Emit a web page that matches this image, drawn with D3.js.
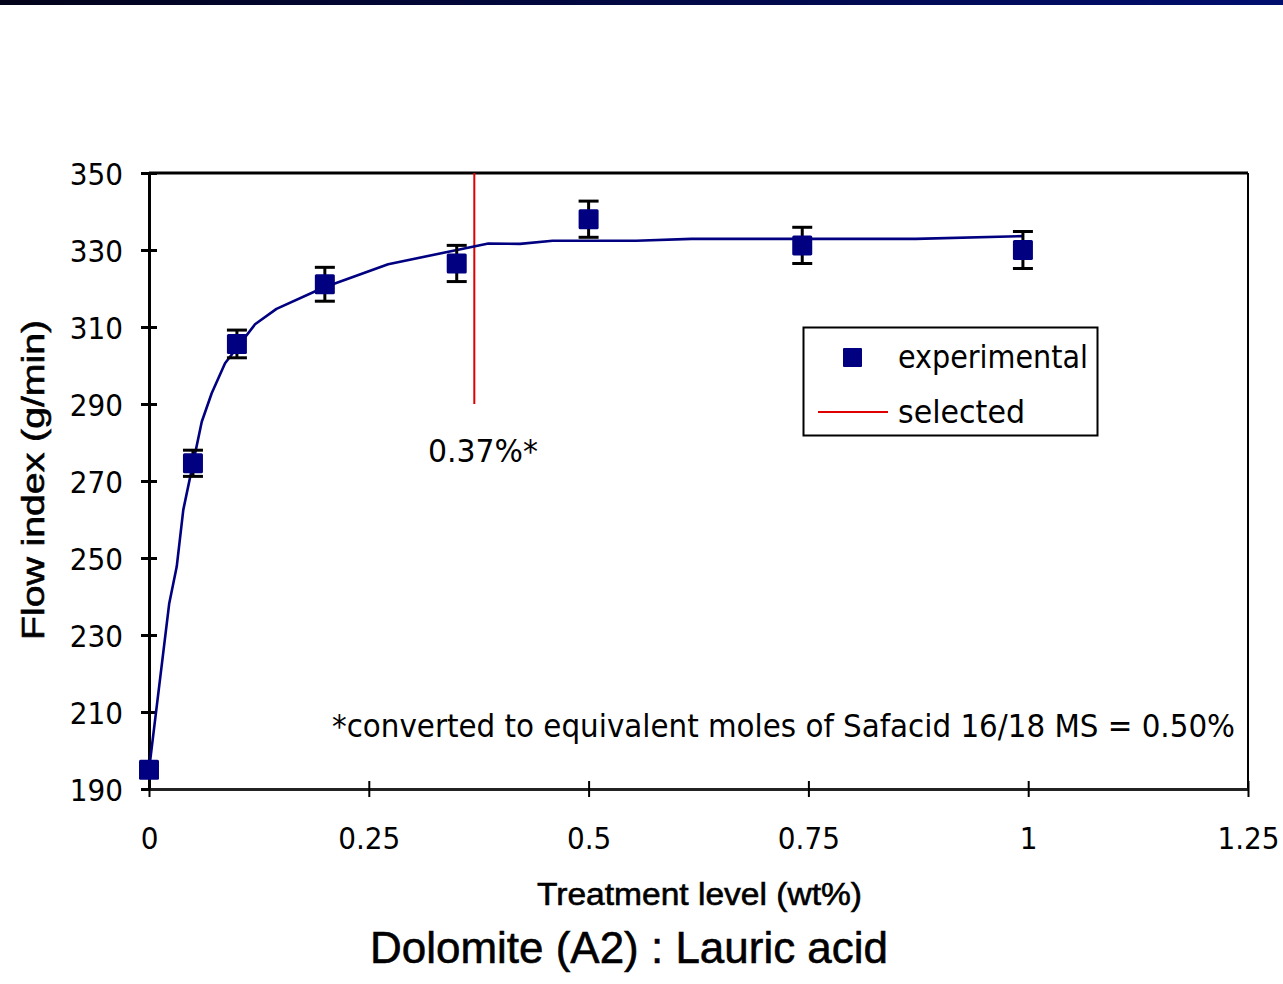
<!DOCTYPE html>
<html>
<head>
<meta charset="utf-8">
<script src="https://cdn.jsdelivr.net/npm/d3@7"></script>
<style>
  html, body { margin: 0; padding: 0; background: #ffffff; }
  svg { display: block; }
  .num { font-family: "DejaVu Sans Condensed", "DejaVu Sans", sans-serif; font-stretch: condensed; fill: #000; }
  .lbl { font-family: "Liberation Sans", Arial, sans-serif; fill: #000; stroke: #000; stroke-width: 0.6px; }
</style>
</head>
<body>
<svg id="chart" width="1283" height="984"></svg>
<script>
// Treatment levels (wt%) and measured flow index (g/min) with error bars
const treatment = [0, 0.05, 0.1, 0.2, 0.35, 0.5, 0.743, 0.994];
const flowIndex = [195.0, 274.6, 305.6, 321.1, 326.5, 338.0, 331.2, 330.0];
const flowError = [1.0, 3.4, 3.6, 4.4, 4.7, 4.7, 4.7, 4.8];

// Fitted response curve
const fitX = [0, 0.023, 0.0315, 0.039, 0.06, 0.0713, 0.0865, 0.1206, 0.145, 0.198, 0.272, 0.386, 0.422, 0.459, 0.554, 0.617, 0.872, 0.994];
const fitY = [194.9, 238.2, 247.7, 262.5, 285.4, 292.8, 300.6, 310.7, 314.7, 320.2, 326.3, 331.7, 331.6, 332.4, 332.4, 332.9, 332.9, 333.6];

// Selected treatment level marker
const selectedLevel = 0.37;
const selectedRange = [290, 350];

const xTicks = [0, 0.25, 0.5, 0.75, 1, 1.25];
const xTickLabels = ["0", "0.25", "0.5", "0.75", "1", "1.25"];
const yTicks = [190, 210, 230, 250, 270, 290, 310, 330, 350];

const svg = d3.select("#chart");

// header bar
const grad = svg.append("defs").append("linearGradient").attr("id", "hdr")
  .attr("x1", "0%").attr("x2", "100%");
grad.append("stop").attr("offset", "0%").attr("stop-color", "#03031a");
grad.append("stop").attr("offset", "100%").attr("stop-color", "#000e6e");
svg.append("rect").attr("x", 0).attr("y", 0).attr("width", 1283).attr("height", 5).attr("fill", "url(#hdr)");

const x = d3.scaleLinear().domain([0, 1.25]).range([149, 1248]);
const y = d3.scaleLinear().domain([190, 350]).range([789, 173]);

// frame: top and right
svg.append("line").attr("x1", x(0)).attr("x2", x(1.25)).attr("y1", y(350)).attr("y2", y(350))
  .attr("stroke", "#000").attr("stroke-width", 3);
svg.append("line").attr("x1", x(1.25)).attr("x2", x(1.25)).attr("y1", y(350)).attr("y2", y(190))
  .attr("stroke", "#000").attr("stroke-width", 2);

// y axis
const gy = svg.append("g").attr("transform", `translate(${x(0)},0)`)
  .call(d3.axisLeft(y).tickValues(yTicks).tickFormat(d3.format("d")).tickSizeOuter(0));
gy.select(".domain").attr("stroke", "#000").attr("stroke-width", 3);
gy.selectAll(".tick line").attr("x1", -8).attr("x2", 8).attr("stroke", "#000").attr("stroke-width", 3);
gy.selectAll(".tick text").attr("class", "num").attr("x", -26).attr("dy", "0.36em")
  .style("font-size", "31px").attr("text-anchor", "end");

// x axis
const gx = svg.append("g").attr("transform", `translate(0,${y(190)})`)
  .call(d3.axisBottom(x).tickValues(xTicks).tickFormat((d, i) => xTickLabels[i]).tickSizeOuter(0));
gx.select(".domain").attr("stroke", "#222").attr("stroke-width", 3);
gx.selectAll(".tick line").attr("y1", -8).attr("y2", 8).attr("stroke", "#000").attr("stroke-width", 2);
gx.selectAll(".tick text").attr("class", "num").attr("y", 60).attr("dy", 0)
  .style("font-size", "31px").attr("text-anchor", "middle");
svg.selectAll(".tick text").attr("fill", "#000");

// selected level line
svg.append("line")
  .attr("x1", x(selectedLevel)).attr("x2", x(selectedLevel))
  .attr("y1", y(selectedRange[0])).attr("y2", y(selectedRange[1]))
  .attr("stroke", "#e00000").attr("stroke-width", 2);

// fitted curve
const fitPts = fitX.map((v, i) => [v, fitY[i]]);
svg.append("path").datum(fitPts)
  .attr("d", d3.line().x(d => x(d[0])).y(d => y(d[1])))
  .attr("fill", "none").attr("stroke", "#000080").attr("stroke-width", 2.6)
  .attr("stroke-linejoin", "round");

// error bars
const pts = treatment.map((t, i) => ({ t, v: flowIndex[i], e: flowError[i] }));
const eb = svg.append("g").attr("stroke", "#000").attr("stroke-width", 3);
pts.forEach(p => {
  eb.append("line").attr("x1", x(p.t)).attr("x2", x(p.t)).attr("y1", y(p.v - p.e)).attr("y2", y(p.v + p.e));
  eb.append("line").attr("x1", x(p.t) - 10).attr("x2", x(p.t) + 10).attr("y1", y(p.v + p.e)).attr("y2", y(p.v + p.e));
  eb.append("line").attr("x1", x(p.t) - 10).attr("x2", x(p.t) + 10).attr("y1", y(p.v - p.e)).attr("y2", y(p.v - p.e));
});

// experimental markers
svg.append("g").selectAll("rect").data(pts).join("rect")
  .attr("x", d => x(d.t) - 10).attr("y", d => y(d.v) - 10)
  .attr("width", 20).attr("height", 20).attr("rx", 1.5)
  .attr("fill", "#000080");

// annotation
svg.append("text").attr("class", "num").attr("x", 428).attr("y", 462)
  .style("font-size", "32px").attr("textLength", 110).attr("lengthAdjust", "spacingAndGlyphs")
  .text("0.37%*");
svg.append("text").attr("class", "num").attr("x", 332).attr("y", 737)
  .style("font-size", "32px").attr("textLength", 903).attr("lengthAdjust", "spacingAndGlyphs")
  .text("*converted to equivalent moles of Safacid 16/18 MS = 0.50%");

// legend
const lg = svg.append("g");
lg.append("rect").attr("x", 803.5).attr("y", 327.5).attr("width", 294).attr("height", 108)
  .attr("fill", "#fff").attr("stroke", "#000").attr("stroke-width", 2);
lg.append("rect").attr("x", 843).attr("y", 348).attr("width", 19).attr("height", 19).attr("rx", 1).attr("fill", "#000080");
lg.append("line").attr("x1", 818).attr("x2", 888).attr("y1", 412).attr("y2", 412)
  .attr("stroke", "#e00000").attr("stroke-width", 2);
lg.append("text").attr("class", "num").attr("x", 898).attr("y", 368)
  .style("font-size", "32px").attr("textLength", 190).attr("lengthAdjust", "spacingAndGlyphs").text("experimental");
lg.append("text").attr("class", "num").attr("x", 898).attr("y", 423)
  .style("font-size", "32px").attr("textLength", 127).attr("lengthAdjust", "spacingAndGlyphs").text("selected");

// axis titles
svg.append("text").attr("class", "lbl")
  .attr("transform", "translate(44,480) rotate(-90)").attr("text-anchor", "middle")
  .style("font-size", "31px").attr("textLength", 320).attr("lengthAdjust", "spacingAndGlyphs")
  .text("Flow index  (g/min)");
svg.append("text").attr("class", "lbl").attr("x", 537).attr("y", 905)
  .style("font-size", "31px").attr("textLength", 325).attr("lengthAdjust", "spacingAndGlyphs")
  .text("Treatment level  (wt%)");
svg.append("text").attr("class", "lbl").attr("x", 370).attr("y", 963)
  .style("font-size", "45px").attr("textLength", 518).attr("lengthAdjust", "spacingAndGlyphs")
  .text("Dolomite (A2) : Lauric acid");
</script>
</body>
</html>
